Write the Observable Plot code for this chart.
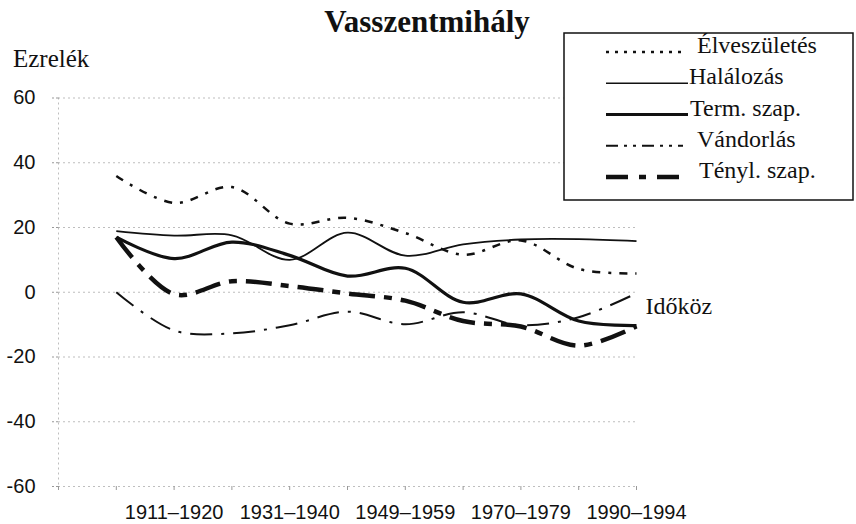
<!DOCTYPE html>
<html>
<head>
<meta charset="utf-8">
<script src="https://cdn.jsdelivr.net/npm/d3@7"></script>
<script src="https://cdn.jsdelivr.net/npm/@observablehq/plot@0.6"></script>
<style>
  html, body { margin: 0; padding: 0; background: #fff; }
  #chart { width: 856px; height: 524px; }
</style>
</head>
<body>
<div id="chart"></div>
<script>
// ---- data ----
const categories = ["1901–1910", "1911–1920", "1921–1930", "1931–1940", "1941–1948",
                    "1949–1959", "1960–1969", "1970–1979", "1980–1989", "1990–1994"];
const labeledCategories = ["1911–1920", "1931–1940", "1949–1959", "1970–1979", "1990–1994"];
const yTicks = [60, 40, 20, 0, -20, -40, -60];
const seriesNames = ["Élveszületés", "Halálozás", "Term. szap.", "Vándorlás", "Tényl. szap."];
const elveszuletes = [35.9, 27.6, 32.5, 21.2, 23.0, 18.3, 11.6, 16.0, 7.2, 5.8];
const halalozas    = [18.9, 17.5, 17.6, 10.0, 18.4, 11.3, 14.8, 16.3, 16.4, 15.8];
const termSzap     = [17.0, 10.4, 15.5, 11.4, 5.0, 7.4, -3.1, -0.5, -8.9, -10.3];
const vandorlas    = [0.0, -11.8, -12.7, -10.2, -6.0, -9.9, -6.2, -10.2, -7.7, -0.3];
const tenylSzap    = [17.0, -0.6, 3.4, 1.9, -0.4, -2.6, -8.9, -10.6, -16.5, -10.5];
const title = "Vasszentmihály";
const yLabel = "Ezrelék";
const xLabel = "Időköz";

// ---- build ----
const values = [elveszuletes, halalozas, termSzap, vandorlas, tenylSzap];
const styles = [
  {strokeWidth: 2.5, strokeDasharray: "8,8,3,8", legendDash: "3,6", legendWidth: 2.5},
  {strokeWidth: 1.8, strokeDasharray: null, legendDash: null, legendWidth: 1.5},
  {strokeWidth: 3.2, strokeDasharray: null, legendDash: null, legendWidth: 3.2},
  {strokeWidth: 2.0, strokeDasharray: "22,9,3,9", legendDash: "12,6,3,6,3,6", legendWidth: 2},
  {strokeWidth: 4.5, strokeDasharray: "26,9,8,9", legendDash: "22,11,7,11", legendWidth: 4.5}
];
const rows = vals => vals.map((v, i) => ({x: i + 1, y: v, cat: categories[i]}));
const serif = "'Liberation Serif', 'Times New Roman', serif";
const sans = "'Liberation Sans', Arial, sans-serif";
const narrow = "'Liberation Sans Narrow', 'Liberation Sans', sans-serif";

const lineMarks = values.map((vals, s) => Plot.line(rows(vals), {
  x: "x", y: "y", curve: "catmull-rom",
  stroke: "#111", strokeWidth: styles[s].strokeWidth,
  strokeDasharray: styles[s].strokeDasharray, strokeLinecap: "butt"
}));

const plot = Plot.plot({
  width: 856, height: 524,
  marginLeft: 58, marginRight: 220, marginTop: 97.5, marginBottom: 38,
  x: {type: "linear", domain: [0, categories.length], axis: null},
  y: {domain: [-60, 60], axis: null},
  style: {background: "white", color: "#111", fontFamily: sans, overflow: "visible"},
  marks: [
    Plot.gridY(yTicks, {stroke: "#888", strokeOpacity: 0.55, strokeDasharray: "2,3", strokeWidth: 1}),
    Plot.ruleX([0], {stroke: "#888", strokeOpacity: 0.55, strokeDasharray: "2,3"}),
    Plot.axisY({ticks: yTicks, tickSize: 8, tickPadding: 15, tickFormat: d => String(d),
                label: null, stroke: "#999", strokeDasharray: "2,2", fill: "#111",
                fontSize: 20, fontFamily: sans}),
    Plot.axisX({ticks: d3.range(0, categories.length + 1), tickSize: 4, tickFormat: () => "",
                label: null, stroke: "#999"}),
    Plot.axisX({ticks: labeledCategories.map(c => categories.indexOf(c) + 1),
                tickFormat: i => categories[i - 1], tickSize: 0, tickPadding: 18, label: null,
                fill: "#111", fontSize: 20, fontFamily: narrow}),
    ...lineMarks,
    Plot.text([xLabel], {x: categories.length, y: -4.2, text: d => d, dx: 9, textAnchor: "start",
                         fontSize: 24, fontFamily: serif, fill: "#111"})
  ]
});

const svg = d3.select(plot);
svg.append("text").attr("x", 427).attr("y", 32).attr("text-anchor", "middle")
  .attr("font-family", serif).attr("font-size", 31).attr("font-weight", "bold")
  .attr("fill", "#111").text(title);
svg.append("text").attr("x", 13).attr("y", 67).attr("text-anchor", "start")
  .attr("font-family", serif).attr("font-size", 25).attr("fill", "#111").text(yLabel);

const lg = svg.append("g");
lg.append("rect").attr("x", 564).attr("y", 33).attr("width", 289).attr("height", 167)
  .attr("fill", "white").attr("stroke", "#111").attr("stroke-width", 1.5);
const textX = [697, 689, 690, 697, 699];
const swEnd = [687, 688, 688, 683, 683];
seriesNames.forEach((name, i) => {
  const base = 53 + i * 31.25;
  lg.append("line").attr("x1", 606).attr("x2", swEnd[i]).attr("y1", base - 1).attr("y2", base - 1)
    .attr("stroke", "#111").attr("stroke-width", styles[i].legendWidth)
    .attr("stroke-dasharray", styles[i].legendDash);
  lg.append("text").attr("x", textX[i]).attr("y", base).attr("text-anchor", "start")
    .attr("font-family", serif).attr("font-size", 24).attr("fill", "#111").text(name);
});

document.getElementById("chart").appendChild(plot);
</script>
</body>
</html>
